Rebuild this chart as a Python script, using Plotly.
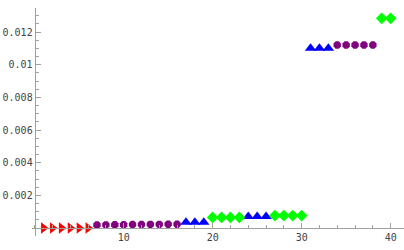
import plotly.graph_objects as go

red_x = [1, 2, 3, 4, 5, 6]
red_y = [0, 0, 0, 0, 0, 0]
purple_x = [7, 8, 9, 10, 11, 12, 13, 14, 15, 16, 34, 35, 36, 37, 38]
purple_y = [0.00018, 0.00019, 0.0002, 0.0002, 0.00021, 0.00021, 0.00022, 0.00022, 0.00023, 0.00023,
            0.0112, 0.0112, 0.0112, 0.0112, 0.0112]
blue_x = [17, 18, 19, 24, 25, 26, 31, 32, 33]
blue_y = [0.00035, 0.00035, 0.00035, 0.0007, 0.0007, 0.0007, 0.0110, 0.0110, 0.0110]
green_x = [20, 21, 22, 23, 27, 28, 29, 30, 39, 40]
green_y = [0.00065, 0.00065, 0.00065, 0.00065, 0.00076, 0.00076, 0.00076, 0.00076, 0.01284, 0.01284]

x_ticks = [10, 20, 30, 40]
x_labels = ["10", "20", "30", "40"]
y_ticks = [0.002, 0.004, 0.006, 0.008, 0.01, 0.012]
y_labels = ["0.002", "0.004", "0.006", "0.008", "0.01", "0.012"]

fig = go.Figure()
fig.add_trace(go.Scatter(x=red_x, y=red_y, mode="markers",
                         marker=dict(symbol="triangle-right", size=10, color="#FF0000")))
fig.add_trace(go.Scatter(x=purple_x, y=purple_y, mode="markers",
                         marker=dict(symbol="octagon", size=8, color="#800080")))
fig.add_trace(go.Scatter(x=blue_x, y=blue_y, mode="markers",
                         marker=dict(symbol="triangle-up", size=10, color="#0000FF")))
fig.add_trace(go.Scatter(x=green_x, y=green_y, mode="markers",
                         marker=dict(symbol="diamond", size=9, color="#00FF00")))

xr = [-0.3, 41.5]
yr = [-0.00049, 0.01347]
axis_col = "#a0a0a0"
font = dict(family="DejaVu Sans Mono", size=10, color="#444444")

fig.update_layout(
    width=404, height=250,
    margin=dict(l=32, r=0, t=8, b=14),
    plot_bgcolor="white", paper_bgcolor="white",
    showlegend=False,
    xaxis=dict(range=xr, showgrid=False, zeroline=False, showline=True, linecolor=axis_col,
               linewidth=1, anchor="free", position=(0 - yr[0]) / (yr[1] - yr[0]),
               automargin=False,
               tickmode="array", tickvals=x_ticks, ticktext=x_labels,
               ticks="inside", ticklen=5, tickcolor=axis_col, tickfont=font,
               minor=dict(dtick=2, tick0=0, ticks="inside", ticklen=3, tickcolor=axis_col)),
    yaxis=dict(range=yr, showgrid=False, zeroline=False, showline=True, linecolor=axis_col,
               linewidth=1, anchor="free", position=(0 - xr[0]) / (xr[1] - xr[0]),
               automargin=False,
               tickmode="array", tickvals=y_ticks, ticktext=y_labels,
               ticks="inside", ticklen=5, tickcolor=axis_col, tickfont=font,
               minor=dict(dtick=0.0005, tick0=0, ticks="inside", ticklen=3, tickcolor=axis_col)),
)

fig.write_html("out.html", config={"displayModeBar": False},
               post_script="document.body.style.margin='0';")
